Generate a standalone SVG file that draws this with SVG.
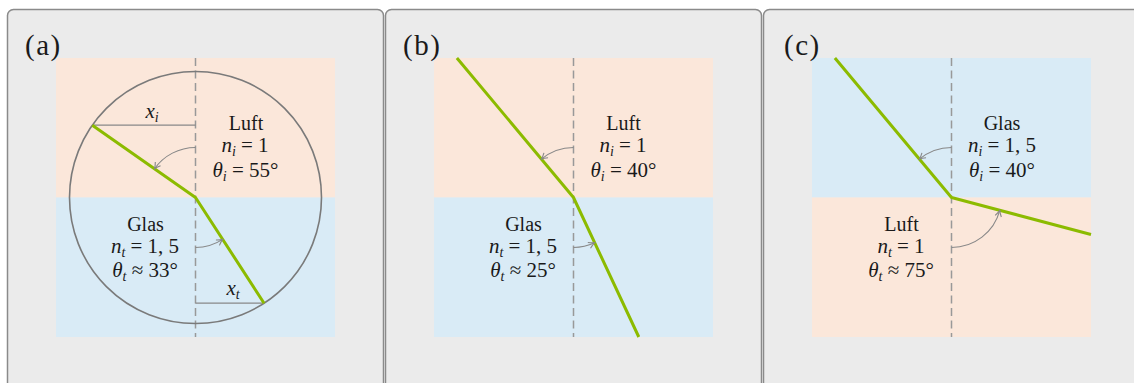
<svg xmlns="http://www.w3.org/2000/svg" width="1134" height="383" viewBox="0 0 1134 383">
<defs>
<style>
.panel{fill:#ebebeb;stroke:#8a8a8a;stroke-width:1.5}
.air{fill:#fbe7da}
.glass{fill:#d9ebf6}
.axis{stroke:#999;stroke-width:1.5;stroke-dasharray:8,4.5;fill:none}
.ray{stroke:#8cbb00;stroke-width:3;fill:none;stroke-linejoin:round}
.arc{stroke:#888;stroke-width:1.1;fill:none;marker-end:url(#ah)}
.dim{stroke:#888;stroke-width:1.2;fill:none}
.circ{stroke:#7a7a7a;stroke-width:1.6;fill:none}
text{font-family:"Liberation Serif","Times New Roman",serif;fill:#1a1a1a}
.lbl{font-size:20px;text-anchor:middle}
.m{font-size:21px;text-anchor:middle}
.tag{font-size:29px;letter-spacing:1.5px}
.it{font-style:italic}
.sub{font-size:14px;font-style:italic}
</style>
<marker id="ah" viewBox="-7 -4 8 8" refX="0" refY="0" markerWidth="8" markerHeight="8" markerUnits="userSpaceOnUse" orient="auto">
<path d="M-6,-3.2 Q-2.5,-0.8 0,0 Q-2.5,0.8 -6,3.2" fill="none" stroke="#888" stroke-width="1.1"/>
</marker>
</defs>

<g id="panel-a">
<rect class="panel" x="7.5" y="9.5" width="376" height="400" rx="6"/>
<rect class="air" x="56" y="58" width="279" height="139.5"/>
<rect class="glass" x="56" y="197.5" width="279" height="139.5"/>
<line class="axis" x1="195.5" y1="58" x2="195.5" y2="337"/>
<circle class="circ" cx="195.5" cy="197.5" r="126"/>
<line class="dim" x1="92.3" y1="125.2" x2="195.5" y2="125.2"/>
<line class="dim" x1="195.5" y1="303.2" x2="264.1" y2="303.2"/>
<polyline class="ray" points="92.3,125.2 195.5,197.5 264.1,303.2"/>
<path class="arc" d="M195.5,147.5 A50,50 0 0,0 154.5,168.8"/>
<path class="arc" d="M195.5,247.5 A50,50 0 0,0 222.7,239.4"/>
<text class="tag" x="25" y="55">(a)</text>
<text class="m" x="152" y="118"><tspan class="it">x</tspan><tspan class="sub" dy="4">i</tspan></text>
<text class="m" x="233" y="295"><tspan class="it">x</tspan><tspan class="sub" dy="4">t</tspan></text>
<text class="lbl" x="246" y="130">Luft</text>
<text class="m" x="245" y="152"><tspan class="it">n</tspan><tspan class="sub" dy="4">i</tspan><tspan dy="-4"> = 1</tspan></text>
<text class="m" x="245.5" y="177"><tspan class="it">θ</tspan><tspan class="sub" dy="4">i</tspan><tspan dy="-4"> = 55°</tspan></text>
<text class="lbl" x="145.5" y="231">Glas</text>
<text class="m" x="145" y="253"><tspan class="it">n</tspan><tspan class="sub" dy="4">t</tspan><tspan dy="-4"> = 1, 5</tspan></text>
<text class="m" x="145" y="277"><tspan class="it">θ</tspan><tspan class="sub" dy="4">t</tspan><tspan dy="-4"> ≈ 33°</tspan></text>
</g>

<g id="panel-b">
<rect class="panel" x="385.5" y="9.5" width="376" height="400" rx="6"/>
<rect class="air" x="434" y="58" width="279" height="139.5"/>
<rect class="glass" x="434" y="197.5" width="279" height="139.5"/>
<line class="axis" x1="573.5" y1="58" x2="573.5" y2="337"/>
<polyline class="ray" points="456.9,58 573.5,197.5 638.8,337"/>
<path class="arc" d="M573.5,147.5 A50,50 0 0,0 541.4,159.2"/>
<path class="arc" d="M573.5,247.5 A50,50 0 0,0 594.6,242.8"/>
<text class="tag" x="403" y="55">(b)</text>
<text class="lbl" x="623.5" y="130">Luft</text>
<text class="m" x="623" y="152"><tspan class="it">n</tspan><tspan class="sub" dy="4">i</tspan><tspan dy="-4"> = 1</tspan></text>
<text class="m" x="623.5" y="177"><tspan class="it">θ</tspan><tspan class="sub" dy="4">i</tspan><tspan dy="-4"> = 40°</tspan></text>
<text class="lbl" x="523.5" y="231">Glas</text>
<text class="m" x="523" y="253"><tspan class="it">n</tspan><tspan class="sub" dy="4">t</tspan><tspan dy="-4"> = 1, 5</tspan></text>
<text class="m" x="523" y="277"><tspan class="it">θ</tspan><tspan class="sub" dy="4">t</tspan><tspan dy="-4"> ≈ 25°</tspan></text>
</g>

<g id="panel-c">
<rect class="panel" x="763.5" y="9.5" width="380" height="400" rx="6"/>
<rect class="glass" x="812" y="58" width="279" height="139.5"/>
<rect class="air" x="812" y="197.5" width="279" height="139.5"/>
<line class="axis" x1="951.5" y1="58" x2="951.5" y2="337"/>
<polyline class="ray" points="834.9,58 951.5,197.5 1091,234.5"/>
<path class="arc" d="M951.5,147.5 A50,50 0 0,0 919.4,159.2"/>
<path class="arc" d="M951.5,247.5 A50,50 0 0,0 999.8,210.4"/>
<text class="tag" x="784" y="55">(c)</text>
<text class="lbl" x="1002" y="130">Glas</text>
<text class="m" x="1002" y="152"><tspan class="it">n</tspan><tspan class="sub" dy="4">i</tspan><tspan dy="-4"> = 1, 5</tspan></text>
<text class="m" x="1002" y="177"><tspan class="it">θ</tspan><tspan class="sub" dy="4">i</tspan><tspan dy="-4"> = 40°</tspan></text>
<text class="lbl" x="901.5" y="231">Luft</text>
<text class="m" x="901" y="253"><tspan class="it">n</tspan><tspan class="sub" dy="4">t</tspan><tspan dy="-4"> = 1</tspan></text>
<text class="m" x="901" y="277"><tspan class="it">θ</tspan><tspan class="sub" dy="4">t</tspan><tspan dy="-4"> ≈ 75°</tspan></text>
</g>
</svg>
